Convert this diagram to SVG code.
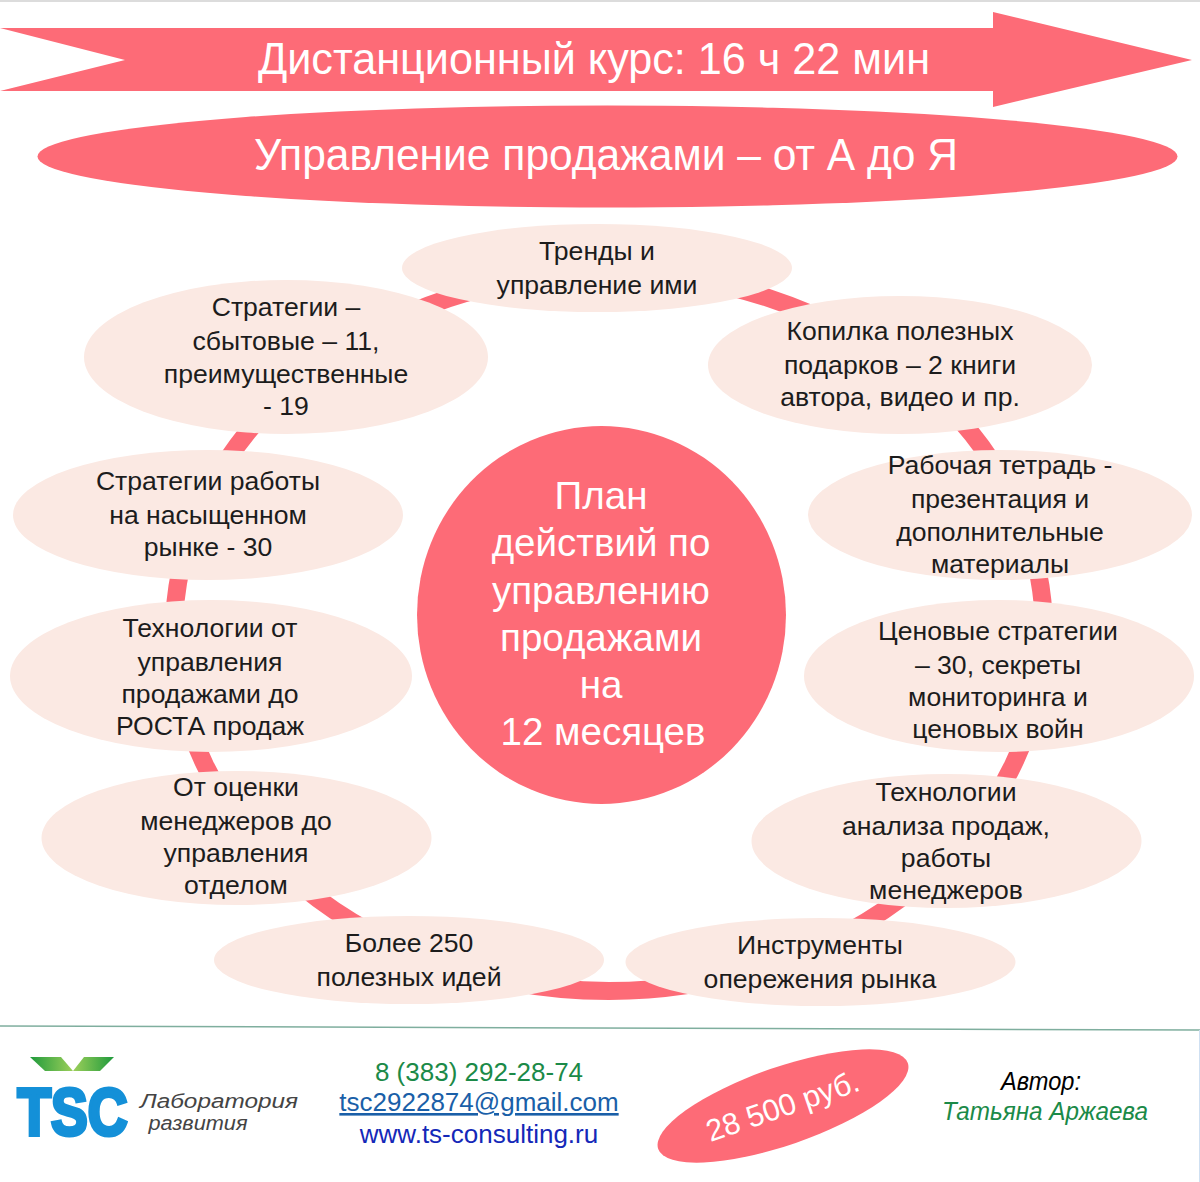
<svg xmlns="http://www.w3.org/2000/svg" width="1200" height="1182" viewBox="0 0 1200 1182">
<style>
text{font-family:"Liberation Sans",Arial,sans-serif;text-anchor:middle}
.n{fill:#fbe9e3}
.t{font-size:26.6px;fill:#1c1c1c}
.r{fill:#fd6b77}
.w{fill:#fff}
</style>
<defs>
<linearGradient id="g1" x1="0" x2="1" y1="0" y2="0"><stop offset="0" stop-color="#1f9a3c"/><stop offset="1" stop-color="#9ccf5a"/></linearGradient>
<linearGradient id="g2" x1="0" x2="1" y1="0" y2="0"><stop offset="0" stop-color="#9ccf5a"/><stop offset="1" stop-color="#1f9a3c"/></linearGradient>
</defs>
<rect width="1200" height="1182" fill="#fff"/>
<rect width="1200" height="2" fill="#dcdcdc"/>
<g id="connectors"><ellipse cx="609" cy="632" rx="435" ry="359" fill="none" stroke="#fd6b77" stroke-width="18"/></g>
<g id="banner-arrow"><polygon class="r" points="0,28 993,28 993,12 1192,60 993,107 993,91 0,91 125,60"/>
<text class="w" x="594" y="74" font-size="44" textLength="672" lengthAdjust="spacingAndGlyphs">Дистанционный курс: 16 ч 22 мин</text></g>
<g id="banner-ellipse"><ellipse class="r" cx="607.5" cy="156.5" rx="570" ry="51"/>
<text class="w" x="606" y="170" font-size="44" textLength="704" lengthAdjust="spacingAndGlyphs">Управление продажами – от А до Я</text></g>
<g id="center"><ellipse class="r" cx="601.5" cy="615" rx="184.5" ry="189"/>
<text class="w" font-size="38.5"><tspan x="601" y="509">План</tspan><tspan x="601" y="556">действий по</tspan><tspan x="601" y="604">управлению</tspan><tspan x="601" y="651">продажами</tspan><tspan x="601" y="698">на</tspan><tspan x="603" y="745">12 месяцев</tspan></text></g>
<g id="n1"><ellipse class="n" cx="597" cy="268" rx="195" ry="44"/><text class="t"><tspan x="597" y="260">Тренды и</tspan><tspan x="597" y="294">управление ими</tspan></text></g>
<g id="n2"><ellipse class="n" cx="900" cy="365" rx="192" ry="69"/><text class="t"><tspan x="900" y="340">Копилка полезных</tspan><tspan x="900" y="374">подарков – 2 книги</tspan><tspan x="900" y="406">автора, видео и пр.</tspan></text></g>
<g id="n3"><ellipse class="n" cx="1000" cy="515" rx="192" ry="65"/><text class="t"><tspan x="1000" y="474">Рабочая тетрадь -</tspan><tspan x="1000" y="508">презентация и</tspan><tspan x="1000" y="541">дополнительные</tspan><tspan x="1000" y="573">материалы</tspan></text></g>
<g id="n4"><ellipse class="n" cx="999" cy="676" rx="195" ry="76"/><text class="t"><tspan x="998" y="640">Ценовые стратегии</tspan><tspan x="998" y="674">– 30, секреты</tspan><tspan x="998" y="706">мониторинга и</tspan><tspan x="998" y="738">ценовых войн</tspan></text></g>
<g id="n5"><ellipse class="n" cx="946.5" cy="841" rx="195" ry="67"/><text class="t"><tspan x="946" y="801">Технологии</tspan><tspan x="946" y="835">анализа продаж,</tspan><tspan x="946" y="867">работы</tspan><tspan x="946" y="899">менеджеров</tspan></text></g>
<g id="n6"><ellipse class="n" cx="820.5" cy="962" rx="195" ry="44"/><text class="t"><tspan x="820" y="954">Инструменты</tspan><tspan x="820" y="988">опережения рынка</tspan></text></g>
<g id="n7"><ellipse class="n" cx="409" cy="960" rx="195" ry="44"/><text class="t"><tspan x="409" y="952">Более 250</tspan><tspan x="409" y="986">полезных идей</tspan></text></g>
<g id="n8"><ellipse class="n" cx="236.5" cy="838" rx="195" ry="67"/><text class="t"><tspan x="236" y="796">От оценки</tspan><tspan x="236" y="830">менеджеров до</tspan><tspan x="236" y="862">управления</tspan><tspan x="236" y="894">отделом</tspan></text></g>
<g id="n9"><ellipse class="n" cx="211" cy="676" rx="201" ry="76"/><text class="t"><tspan x="210" y="637">Технологии от</tspan><tspan x="210" y="671">управления</tspan><tspan x="210" y="703">продажами до</tspan><tspan x="210" y="735">РОСТА продаж</tspan></text></g>
<g id="n10"><ellipse class="n" cx="208" cy="515" rx="195" ry="65"/><text class="t"><tspan x="208" y="490">Стратегии работы</tspan><tspan x="208" y="524">на насыщенном</tspan><tspan x="208" y="556">рынке - 30</tspan></text></g>
<g id="n11"><ellipse class="n" cx="286" cy="357" rx="202" ry="77"/><text class="t"><tspan x="286" y="316">Стратегии –</tspan><tspan x="286" y="350">сбытовые – 11,</tspan><tspan x="286" y="383">преимущественные</tspan><tspan x="286" y="415">- 19</tspan></text></g>
<g id="footer-line"><polyline points="0,1026 1200,1030" fill="none" stroke="#7fae9e" stroke-width="1.5"/><line x1="1199.5" y1="1030" x2="1199.5" y2="1182" stroke="#cfe0f2"/></g>
<g id="logo"><polygon fill="url(#g1)" points="30,1057 61,1057 73,1071 45,1071"/><polygon fill="url(#g2)" points="114,1057 84,1057 73,1071 100,1071"/>
<text x="72.5" y="1135" font-size="66" font-weight="bold" fill="#1490d8" stroke="#1490d8" stroke-width="4" textLength="110" lengthAdjust="spacingAndGlyphs">TSC</text>
<text x="219" y="1108" font-size="20" font-style="italic" fill="#444" textLength="158" lengthAdjust="spacingAndGlyphs">Лаборатория</text>
<text x="198" y="1130" font-size="20" font-style="italic" fill="#444" textLength="99" lengthAdjust="spacingAndGlyphs">развития</text></g>
<g id="contacts"><text x="479" y="1081" font-size="26" fill="#1b8a48">8 (383) 292-28-74</text>
<text x="479" y="1111" font-size="26" fill="#1a5fa8" text-decoration="underline">tsc2922874@gmail.com</text>
<text x="479" y="1143" font-size="26" fill="#1428b8">www.ts-consulting.ru</text></g>
<g id="price"><ellipse class="r" cx="783" cy="1106" rx="132" ry="39" transform="rotate(-19 783 1106)"/>
<text class="w" font-size="30.5" transform="translate(786 1116) rotate(-19)">28 500 руб.</text></g>
<g id="author"><text x="1041" y="1090" font-size="26" font-style="italic" fill="#000" textLength="80" lengthAdjust="spacingAndGlyphs">Автор:</text>
<text x="1045" y="1120" font-size="26" font-style="italic" fill="#1b8a48" textLength="206" lengthAdjust="spacingAndGlyphs">Татьяна Аржаева</text></g>
</svg>
